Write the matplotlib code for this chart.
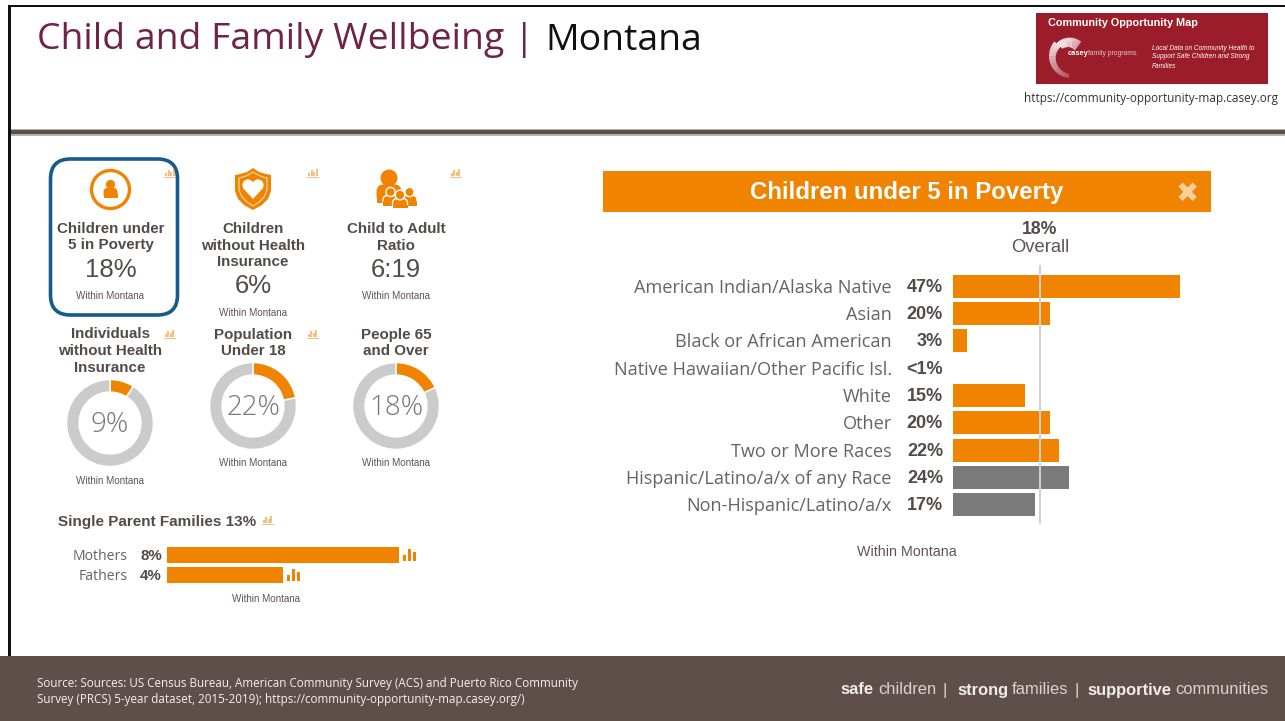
import matplotlib
matplotlib.use("Agg")
import matplotlib.pyplot as plt
import numpy as np
from matplotlib.patches import Circle, FancyBboxPatch, Polygon, Rectangle, Wedge

# Data
race_labels = ["American Indian/Alaska Native", "Asian", "Black or African American",
               "Native Hawaiian/Other Pacific Isl.", "White", "Other", "Two or More Races",
               "Hispanic/Latino/a/x of any Race", "Non-Hispanic/Latino/a/x"]
race_values = [47, 20, 3, 0, 15, 20, 22, 24, 17]
race_texts = ["47%", "20%", "3%", "<1%", "15%", "20%", "22%", "24%", "17%"]
race_is_ethnicity = [False, False, False, False, False, False, False, True, True]
overall_value = 18

parent_labels = ["Mothers", "Fathers"]
parent_values = [8, 4]

donut_titles = ["Individuals\nwithout Health\nInsurance", "Population\nUnder 18", "People 65\nand Over"]
donut_values = [9, 22, 18]

W, H = 1285, 721
ORANGE = "#f08300"
GREY_TEXT = "#5f5354"
DARK_TEXT = "#544a4a"
BAR_GREY = "#7a7a7a"
RING_GREY = "#cbcbcb"
FOOTER = "#5f4f4a"
WINE = "#6f2346"
LOGO_RED = "#9b1d29"

fig = plt.figure(figsize=(W / 100, H / 100), dpi=100, facecolor="white")
plt.rcParams["font.family"] = ["Liberation Sans", "DejaVu Sans"]


def px_axes(x, y, w, h, **kw):
    # axes placed with pixel box, y measured from the top
    return fig.add_axes([x / W, 1 - (y + h) / H, w / W, h / H], **kw)


page = px_axes(0, 0, W, H)
page.set_xlim(0, W)
page.set_ylim(H, 0)
page.axis("off")


def label(x, y, s, size, color=GREY_TEXT, weight="normal", ha="center", family=None, **kw):
    if family == "Open Sans":
        y += 1.5  # Open Sans sits higher than Liberation with va=center
    return page.text(x, y, s, fontsize=size, color=color, fontweight=weight, ha=ha, va="center",
                     family=family or ["Liberation Sans", "DejaVu Sans"], **kw)


def chart_icon(x, y, alpha=0.5):
    # small bar-chart glyph with a baseline
    for dx, h in zip([1, 3.5, 6, 8.5], [3, 6, 4, 7]):
        page.add_patch(Rectangle((x + dx, y + 8 - h), 2, h, color=ORANGE, alpha=alpha, lw=0))
    page.add_patch(Rectangle((x, y + 8.5), 12, 1.1, color=ORANGE, alpha=alpha, lw=0))


def small_bars(x, y):
    for dx, h in zip([0, 5, 9.5], [6, 12, 9]):
        page.add_patch(Rectangle((x + dx, y - h), 3.4, h, color=ORANGE, lw=0))


def person(cx, head_y, head_r, body_w, bottom, outline=False):
    # head and rounded shoulders
    ec = "white" if outline else "none"
    lw = 1.0 if outline else 0
    top = head_y + head_r * 0.75
    page.add_patch(FancyBboxPatch((cx - body_w / 2, top), body_w, bottom - top,
                                  boxstyle=f"round,pad=0,rounding_size={body_w * 0.3}",
                                  fc=ORANGE, ec=ec, lw=lw))
    page.add_patch(Rectangle((cx - body_w / 2, bottom - (bottom - top) * 0.4), body_w, (bottom - top) * 0.4,
                             fc=ORANGE, ec="none", lw=0))
    page.add_patch(Circle((cx, head_y), head_r, fc=ORANGE, ec=ec, lw=lw))


# page frame
page.add_patch(Rectangle((8, 4.8), W, 2.6, color="#111111", lw=0))
page.add_patch(Rectangle((8, 5), 2.5, 651, color="#111111", lw=0))
page.add_patch(Rectangle((10.5, 129), W, 6.5, color="#b9afab", lw=0))
page.add_patch(Rectangle((10.5, 130), W, 4.3, color="#5d4f47", lw=0))
page.add_patch(Rectangle((0, 656), W, 65, color=FOOTER, lw=0))

# header
label(37, 39, "Child and Family Wellbeing | ", 26.9, color=WINE, ha="left", family="Open Sans")
label(545, 39, "Montana", 26.9, color="#111111", ha="left", family="Open Sans")

# logo
page.add_patch(Rectangle((1036, 13), 232, 71, color=LOGO_RED, lw=0))
label(1048, 23.5, "Community Opportunity Map", 7.8, color="white", weight="bold", ha="left")
# crescent, fades out toward the top and gets striped at the bottom
for i, ang in enumerate(np.arange(95, 305, 7)):
    frac = i / 29
    a = 0.25 + 0.7 * min(1, frac * 1.6) * (1 - 0.45 * max(0, frac - 0.7) / 0.3)
    page.add_patch(Wedge((1071, 56), 22 - 0.15 * i * (frac > 0.6), ang, ang + 7, width=4 + 7 * frac,
                         color="white", alpha=a, lw=0))
label(1068, 53.5, "casey", 5.4, color="white", weight="bold", ha="left")
label(1088, 53.5, "family programs.", 4.9, color="#e6c4c7", ha="left")
label(1152, 48, "Local Data on Community Health to", 4.7, color="white", ha="left", style="italic")
label(1152, 57, "Support Safe Children and Strong", 4.7, color="white", ha="left", style="italic")
label(1152, 67, "Families", 4.7, color="white", ha="left", style="italic")
label(1151, 97, "https://community-opportunity-map.casey.org", 8.5, color="#333333", family="Open Sans")

# selected card
page.add_patch(FancyBboxPatch((50.5, 159), 127, 156, boxstyle="round,pad=0,rounding_size=20",
                              fc="white", ec="#175a8c", lw=2.6))

# top row of cards
page.add_patch(Circle((110.5, 189.5), 19, fc="white", ec=ORANGE, lw=2.4))
person(110.5, 184.5, 4.6, 14, 198)
label(110.5, 229, "Children under", 10.9, color=DARK_TEXT, weight="bold")
label(110.5, 245.5, "5 in Poverty", 10.9, color=DARK_TEXT, weight="bold")
label(110.5, 270, "18%", 18.5, color=DARK_TEXT)
label(110.5, 296, "Within Montana", 7.1)

shield_x = [253, 259, 266, 271, 271, 268, 262, 253, 244, 238, 235, 235, 240, 247]
shield_y = [168, 172, 174, 175, 191, 199, 205, 210, 205, 199, 191, 175, 174, 172]
page.add_patch(Polygon(np.column_stack([shield_x, shield_y]), color=ORANGE, lw=0))
inner_x = [253, 258, 263, 267, 267, 264, 259, 253, 247, 242, 239, 239, 243, 248]
inner_y = [172, 175, 177, 178, 190, 197, 202, 206, 202, 197, 190, 178, 177, 175]
page.add_patch(Polygon(np.column_stack([inner_x, inner_y]), fc=ORANGE, ec="#fbd9ae", lw=0.8))
page.add_patch(Circle((248, 185), 5.6, color="white", lw=0))
page.add_patch(Circle((258, 185), 5.6, color="white", lw=0))
page.add_patch(Polygon([[243, 188], [263, 188], [253, 199]], color="white", lw=0))
label(253, 229, "Children", 10.9, color=DARK_TEXT, weight="bold")
label(253, 245.5, "without Health", 10.9, color=DARK_TEXT, weight="bold")
label(253, 262, "Insurance", 10.9, color=DARK_TEXT, weight="bold")
label(253, 286, "6%", 18.5, color=DARK_TEXT)
label(253, 312.5, "Within Montana", 7.1)

# group of people icon
person(389, 178, 8.5, 25, 203)
person(409.5, 192, 4.6, 15, 205.5, outline=True)
person(390.5, 192, 4.6, 15, 205.5, outline=True)
person(400, 195, 4.8, 15, 208.5, outline=True)
label(396, 229, "Child to Adult", 10.9, color=DARK_TEXT, weight="bold")
label(396, 245.5, "Ratio", 10.9, color=DARK_TEXT, weight="bold")
label(396, 270, "6:19", 18.5, color=DARK_TEXT)
label(396, 296, "Within Montana", 7.1)
for x, y in [(164, 168), (307, 168), (449.5, 168), (163.5, 329), (306.5, 329)]:
    chart_icon(x, y)

# donut row
donut_centres = [(110, 423), (253, 406), (396, 406)]
donut_title_y = [334.5, 334.5, 334.5]
donut_foot_y = [480.5, 463, 463]
r = 43.5
for title, val, (cx, cy), ty, fy in zip(donut_titles, donut_values, donut_centres, donut_title_y, donut_foot_y):
    ax = px_axes(cx - r, cy - r, 2 * r, 2 * r)
    ax.pie([val, 100 - val], colors=[ORANGE, RING_GREY], startangle=90, counterclock=False, radius=1,
           wedgeprops=dict(width=0.29, edgecolor="white", linewidth=1.1))
    ax.set_xlim(-1, 1)
    ax.set_ylim(-1, 1)
    for i, line in enumerate(title.split("\n")):
        label(cx, ty + i * 16.5, line, 10.9, color=DARK_TEXT, weight="bold")
    label(cx, cy + 0.5, f"{val}%", 20, color="#7d747a", family="Open Sans", weight="light")
    label(cx, fy, "Within Montana", 7.1)

# single parent families
label(58, 522, "Single Parent Families 13%", 11, color=DARK_TEXT, weight="bold", ha="left")
chart_icon(261.5, 515)
ax_p = px_axes(167, 545, 232, 40)
ax_p.barh(range(len(parent_values)), parent_values, height=0.84, color=ORANGE)
ax_p.set_xlim(0, 8)
ax_p.set_ylim(1.5, -0.5)
ax_p.axis("off")
for i, (name, v) in enumerate(zip(parent_labels, parent_values)):
    yc = 555 + i * 20
    label(128, yc, name, 10.1, ha="right", family="Open Sans", color="#6a6066")
    label(162, yc + 1, f"{v}%", 10.8, color=DARK_TEXT, weight="bold", ha="right")
    small_bars(167 + v * 29 + 4, yc + 6)
label(266, 599, "Within Montana", 7.1)

# main panel header
page.add_patch(Rectangle((603, 171), 608, 41, color=ORANGE, lw=0))
label(907, 192, "Children under 5 in Poverty", 17.3, color="white", weight="bold")
label(1187, 194, "\u2716", 20, color="#fbcf9d", family="DejaVu Sans")

label(1040, 230, f"{overall_value}%", 12.7, color=DARK_TEXT, weight="bold")
label(1040, 247, "Overall", 13.2, color=GREY_TEXT)

# main bars, 1 percent is about 4.83 px
ax_m = px_axes(953, 272.5, 280, 246)
y_pos = np.arange(len(race_values))
bar_colors = [BAR_GREY if e else ORANGE for e in race_is_ethnicity]
ax_m.barh(y_pos, race_values, height=0.85, color=bar_colors)
ax_m.axvline(overall_value, ymin=-0.02, ymax=1.025, color="#d0d0d0", lw=1.4, clip_on=False)
ax_m.set_xlim(0, 280 / 4.83)
ax_m.set_ylim(len(race_values) - 0.5, -0.5)
ax_m.axis("off")
row_h = 246 / len(race_values)
for i, (name, txt) in enumerate(zip(race_labels, race_texts)):
    yc = 272.5 + (i + 0.5) * row_h
    label(892, yc, name, 13.1, ha="right", family="Open Sans", color="#6a6066")
    label(943, yc + 1, txt, 13, color=DARK_TEXT, weight="bold", ha="right")
label(907, 552.5, "Within Montana", 10.3)

# footer
label(37, 682, "Source: Sources: US Census Bureau, American Community Survey (ACS) and Puerto Rico Community",
      8.35, color="#f4f0ee", ha="left", family="Open Sans")
label(37, 697.5, "Survey (PRCS) 5-year dataset, 2015-2019); https://community-opportunity-map.casey.org/)",
      8.35, color="#f4f0ee", ha="left", family="Open Sans")
footer_bits = [(840, "safe", "bold"), (878, "children", "normal"), (943, "|", "normal"),
               (957, "strong", "bold"), (1012, "families", "normal"), (1074, "|", "normal"),
               (1087, "supportive", "bold"), (1175, "communities", "normal")]
for x, s, wt in footer_bits:
    label(x, 690, s, 11.9, color="#efecea" if wt == "bold" else "#d8d3d0", weight=wt, ha="left")

fig.savefig("out.png", dpi=100, facecolor="white")
